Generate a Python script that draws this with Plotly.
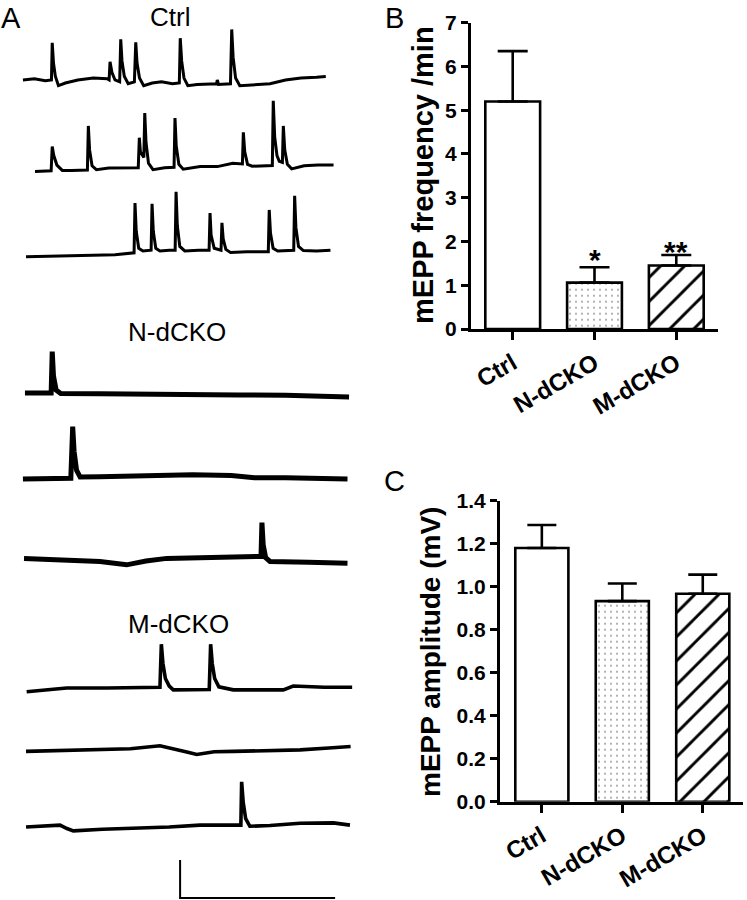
import plotly.graph_objects as go

# ---------------- data ----------------
categories = ["Ctrl", "N-dCKO", "M-dCKO"]
freq_mean = [5.20, 1.06, 1.45]          # mEPP frequency /min
freq_sem = [1.15, 0.35, 0.24]
freq_sig = ["", "*", "**"]
amp_mean = [1.18, 0.933, 0.967]         # mEPP amplitude (mV)
amp_sem = [0.107, 0.082, 0.089]

# example recordings: time (s), voltage relative to trace baseline (mV)
ctrl1_t = [0.06, 0.8, 1.5, 1.9, 1.95, 2.03, 2.15, 2.35, 2.8, 3.6, 4.6, 5.5, 5.62, 5.68, 5.8, 6.0, 6.3, 6.37,
           6.45, 6.6, 6.85, 7.25, 7.34, 7.42, 7.58, 7.85, 8.4, 9.0, 9.7, 10.15, 10.21, 10.3, 10.45, 10.7, 11.3,
           12.0, 12.55, 12.6, 12.68, 13.45, 13.53, 13.62, 13.78, 14.05, 15.0, 16.0, 17.0, 18.0, 19.0, 19.6]
ctrl1_v = [0.0, 0.03, -0.02, 0.0, 0.98, 0.45, 0.1, -0.15, -0.08, 0.0, 0.05, 0.03, 0.0, 0.48, 0.2, 0.0, -0.05, 1.07,
           0.5, 0.1, -0.1, -0.05, 0.99, 0.45, 0.05, -0.15, -0.08, -0.05, -0.1, -0.08, 1.10, 0.5, 0.05, -0.15, -0.12,
           -0.1, -0.1, 0.0, -0.12, -0.1, 1.33, 0.6, 0.05, -0.15, -0.12, -0.1, 0.0, 0.05, 0.07, 0.09]

ctrl2_t = [0.84, 1.5, 1.88, 1.95, 2.05, 2.25, 2.6, 3.2, 4.22, 4.28, 4.36, 4.52, 4.8, 5.6, 6.6, 7.5, 7.57, 7.64,
           7.86, 7.92, 8.0, 8.16, 8.45, 9.2, 9.81, 9.87, 9.95, 10.12, 10.4, 11.5, 12.6, 13.6, 14.22, 14.28, 14.37,
           14.55, 14.85, 15.6, 16.15, 16.21, 16.3, 16.45, 16.6, 16.8, 16.86, 16.95, 17.12, 17.4, 18.2, 19.1, 20.1]
ctrl2_v = [-0.07, -0.06, -0.05, 0.59, 0.35, 0.1, -0.04, -0.045, -0.03, 1.13, 0.5, 0.08, -0.02, 0.02, 0.02, 0.03, 0.82,
           0.45, 0.3, 1.47, 0.7, 0.15, -0.02, 0.03, 0.04, 1.34, 0.6, 0.12, -0.01, 0.06, 0.06, 0.15, 0.13, 0.96, 0.45,
           0.12, 0.07, 0.09, 0.09, 1.79, 0.85, 0.35, 0.2, 0.17, 1.13, 0.5, 0.12, 0.0, 0.08, 0.1, 0.1]

ctrl3_t = [0.26, 2.0, 4.0, 6.0, 7.23, 7.29, 7.37, 7.53, 7.8, 8.33, 8.39, 8.47, 8.63, 8.9, 9.5, 9.88, 9.94, 10.02,
           10.18, 10.5, 11.4, 12.07, 12.13, 12.2, 12.4, 12.84, 12.9, 12.98, 13.15, 13.45, 14.5, 15.89, 15.95, 16.03,
           16.2, 16.5, 17.53, 17.59, 17.67, 17.84, 18.15, 19.0, 19.9]
ctrl3_v = [-0.07, -0.05, -0.04, -0.02, 0.03, 1.34, 0.6, 0.15, 0.08, 0.1, 1.32, 0.6, 0.15, 0.08, 0.1, 0.1, 1.64,
           0.75, 0.2, 0.08, 0.1, 0.1, 1.08, 0.5, 0.15, 0.1, 0.82, 0.4, 0.12, 0.04, 0.06, 0.06, 1.16, 0.55, 0.15,
           0.08, 0.1, 1.53, 0.7, 0.2, 0.09, 0.08, 0.1]

n1_t = [0.19, 1.0, 1.88, 1.95, 2.03, 2.2, 2.5, 5.0, 8.0, 11.0, 14.0, 17.0, 19.0, 21.1]
n1_v = [0.0, 0.0, 0.0, 1.09, 0.45, 0.08, -0.01, -0.02, -0.02, -0.05, -0.05, -0.06, -0.08, -0.1]

n2_t = [0.06, 2.0, 3.15, 3.27, 3.36, 3.52, 3.75, 5.0, 8.0, 11.0, 13.5, 15.0, 17.0, 19.0, 21.0]
n2_v = [-0.03, -0.02, -0.01, 1.35, 0.7, 0.2, 0.02, 0.03, 0.05, 0.08, 0.06, 0.0, 0.0, -0.02, -0.03]

n3_t = [0.13, 2.5, 5.03, 6.75, 8.0, 9.33, 11.0, 12.56, 15.35, 15.42, 15.48, 15.56, 15.72, 16.0, 18.5, 21.0]
n3_v = [0.04, 0.0, -0.04, -0.13, -0.03, 0.04, 0.05, 0.09, 0.09, 0.09, 0.98, 0.4, 0.06, -0.04, -0.06, -0.09]

m1_t = [0.3, 2.88, 5.5, 8.69, 8.9, 8.99, 9.09, 9.25, 9.5, 9.76, 10.8, 11.92, 12.08, 12.17, 12.27, 12.43, 12.7,
        13.63, 15.2, 16.86, 17.5, 19.5, 21.3]
m1_v = [-0.1, 0.0, 0.0, 0.02, 0.02, 1.15, 0.65, 0.25, 0.05, -0.05, -0.04, -0.05, -0.04, 1.15, 0.65, 0.25, 0.03,
        -0.05, -0.05, -0.05, 0.05, 0.02, 0.02]

m2_t = [0.26, 2.5, 4.95, 7.0, 8.9, 10.0, 10.7, 11.27, 11.9, 12.4, 13.63, 15.8, 17.94, 19.8, 21.2]
m2_v = [-0.04, -0.01, 0.0, 0.03, 0.11, 0.02, -0.06, -0.12, -0.07, -0.05, -0.04, -0.01, 0.0, 0.05, 0.09]

m3_t = [0.26, 2.45, 2.9, 3.31, 5.2, 7.18, 9.5, 11.48, 14.06, 14.12, 14.17, 14.27, 14.43, 14.7, 16.0, 17.94, 20.09, 21.16]
m3_v = [0.0, 0.05, -0.04, -0.1, -0.06, -0.04, 0.0, 0.05, 0.05, 0.05, 1.19, 0.65, 0.22, 0.02, 0.04, 0.1, 0.11, 0.05]

trace_names = ["Ctrl 1", "Ctrl 2", "Ctrl 3", "N-dCKO 1", "N-dCKO 2", "N-dCKO 3",
               "M-dCKO 1", "M-dCKO 2", "M-dCKO 3"]
trace_t = [ctrl1_t, ctrl2_t, ctrl3_t, n1_t, n2_t, n3_t, m1_t, m2_t, m3_t]
trace_v = [ctrl1_v, ctrl2_v, ctrl3_v, n1_v, n2_v, n3_v, m1_v, m2_v, m3_v]
group_labels = ["Ctrl", "N-dCKO", "M-dCKO"]

scale_time_s = 10    # horizontal scale bar
scale_volt_mv = 1    # vertical scale bar

# ---------------- layout / style ----------------
W, H = 747, 900
FONT = "Liberation Sans, Arial, Helvetica, sans-serif"
trace_offsets = [21.58, 19.24, 17.0, 13.34, 11.11, 8.95, 5.58, 3.95, 1.92]   # stacking (mV)
trace_widths = [3.0, 3.0, 3.0, 5.0, 5.0, 5.0, 3.6, 3.6, 3.6]
scale_origin = (10.2, 0.05)

fig = go.Figure()

# Panel A: example traces
for name, t, v, off, w in zip(trace_names, trace_t, trace_v, trace_offsets, trace_widths):
    fig.add_trace(go.Scatter(
        x=t, y=[val + off for val in v], mode="lines", name=name,
        line=dict(color="black", width=w, shape="linear"),
        xaxis="x3", yaxis="y3", showlegend=False, hoverinfo="skip"))

sx, sy = scale_origin
fig.add_trace(go.Scatter(
    x=[sx, sx, sx + scale_time_s], y=[sy + scale_volt_mv, sy, sy], mode="lines",
    line=dict(color="black", width=2), xaxis="x3", yaxis="y3", showlegend=False, hoverinfo="skip"))

# Panel B / C bars
patterns = dict(shape=["", ".", "/"], size=[8, 6, 17], solidity=[0.1, 0.06, 0.17],
                fgcolor=["black", "#555555", "black"], bgcolor="white", fillmode="replace")

fig.add_trace(go.Bar(
    x=categories, y=freq_mean, width=0.67, xaxis="x", yaxis="y",
    marker=dict(color="white", line=dict(color="black", width=2.6), pattern=patterns),
    error_y=dict(type="data", array=freq_sem, arrayminus=[0, 0, 0], symmetric=False,
                 color="black", thickness=2.6, width=15),
    showlegend=False))

fig.add_trace(go.Bar(
    x=categories, y=amp_mean, width=0.66, xaxis="x2", yaxis="y2",
    marker=dict(color="white", line=dict(color="black", width=2.6), pattern=patterns),
    error_y=dict(type="data", array=amp_sem, arrayminus=[0, 0, 0], symmetric=False,
                 color="black", thickness=2.6, width=14.5),
    showlegend=False))

tickfont = dict(family=FONT, size=21, color="black", weight="bold")
xtickfont = dict(family=FONT, size=24, color="black", weight="bold")

common_y = dict(showgrid=False, zeroline=False, showline=True, linecolor="black", linewidth=3,
                ticks="outside", ticklen=7, tickwidth=3, tickcolor="black", tickfont=tickfont,
                automargin=False)
common_x = dict(showgrid=False, zeroline=False, showline=True, linecolor="black", linewidth=3,
                ticks="outside", ticklen=8, tickwidth=3, tickcolor="black", tickfont=xtickfont,
                tickangle=-30, automargin=False)

annotations = []
# significance stars
for c, m, s, sig in zip(categories, freq_mean, freq_sem, freq_sig):
    if sig:
        annotations.append(dict(x=c, y=m + s, xref="x", yref="y", text=sig, showarrow=False,
                                yanchor="middle", yshift=8 if sig == "*" else 4,
                                font=dict(family=FONT, size=30, color="black", weight="bold")))

# axis titles
annotations.append(dict(x=423 / W, y=1 - 175 / H, xref="paper", yref="paper", text="mEPP frequency /min",
                        textangle=-90, showarrow=False, xanchor="center", yanchor="middle",
                        font=dict(family=FONT, size=29, color="black", weight="bold")))
annotations.append(dict(x=430 / W, y=1 - 652 / H, xref="paper", yref="paper", text="mEPP amplitude (mV)",
                        textangle=-90, showarrow=False, xanchor="center", yanchor="middle",
                        font=dict(family=FONT, size=28, color="black", weight="bold")))

# panel letters
for letter, px, py in [("A", 11, 0), ("B", 394, 0), ("C", 394, 463)]:
    annotations.append(dict(x=px / W, y=1 - py / H, xref="paper", yref="paper", text=letter,
                            showarrow=False, xanchor="center", yanchor="top",
                            font=dict(family=FONT, size=29, color="black")))

# group labels in panel A
for lab, px, py in zip(group_labels, [170, 177, 178], [0, 315, 607]):
    annotations.append(dict(x=px / W, y=1 - py / H, xref="paper", yref="paper", text=lab,
                            showarrow=False, xanchor="center", yanchor="top",
                            font=dict(family=FONT, size=26, color="black")))

fig.update_layout(
    width=W, height=H, margin=dict(l=0, r=0, t=0, b=0, pad=0, autoexpand=False),
    paper_bgcolor="white", plot_bgcolor="white", bargap=0.3,
    xaxis=dict(domain=[471 / W, 718 / W], range=[-0.51, 2.51], anchor="y", **common_x),
    yaxis=dict(domain=[1 - 329 / H, 1 - 22.7 / H], range=[0, 7], dtick=1, anchor="x", **common_y),
    xaxis2=dict(domain=[500 / W, 743 / W], range=[-0.52, 2.5], anchor="y2", **common_x),
    yaxis2=dict(domain=[1 - 801.7 / H, 1 - 500.7 / H], range=[0, 1.4], dtick=0.2, tickformat=".1f",
                anchor="x2", **common_y),
    xaxis3=dict(domain=[0, 360 / W], range=[-22 / 15.5, 338 / 15.5], anchor="y3", visible=False),
    yaxis3=dict(domain=[0, 1], range=[0, H / 38], anchor="x3", visible=False),
    annotations=annotations,
)

fig.write_html("out.html", config={"displayModeBar": False},
               post_script="document.body.style.margin='0px';")
